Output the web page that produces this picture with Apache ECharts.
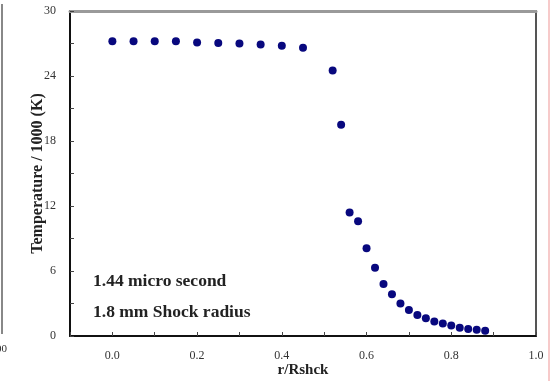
<!DOCTYPE html>
<html>
<head>
<meta charset="utf-8">
<script src="https://cdn.jsdelivr.net/npm/echarts@6/dist/echarts.min.js"></script>
<style>
  html, body { margin: 0; padding: 0; background: #fff; }
  #chart { width: 551px; height: 381px; }
</style>
</head>
<body>
<div id="chart"></div>
<script>
// Radial temperature profile behind the shock front
const rRatio = [0.00, 0.05, 0.10, 0.15, 0.20, 0.25, 0.30, 0.35, 0.40, 0.45,
                0.52, 0.54, 0.56, 0.58, 0.60, 0.62, 0.64, 0.66, 0.68, 0.70,
                0.72, 0.74, 0.76, 0.78, 0.80, 0.82, 0.84, 0.86, 0.88];
const temperatureK1000 = [27.2, 27.2, 27.2, 27.2, 27.1, 27.05, 27.0, 26.9, 26.8, 26.6,
                24.5, 19.5, 11.4, 10.6, 8.1, 6.3, 4.8, 3.85, 3.0, 2.4,
                1.95, 1.65, 1.35, 1.15, 0.97, 0.76, 0.64, 0.58, 0.49];
const xLabels = ['0.0', '0.2', '0.4', '0.6', '0.8', '1.0'];
const yLabels = ['0', '6', '12', '18', '24', '30'];
const notes = ['1.44 micro second', '1.8 mm Shock radius'];

const points = rRatio.map((r, i) => [r, temperatureK1000[i]]);
const serif = '"Liberation Serif", "DejaVu Serif", serif';

const chart = echarts.init(document.getElementById('chart'));
chart.setOption({
  animation: false,
  backgroundColor: '#ffffff',
  grid: { left: 70, right: 15, top: 11, bottom: 45, outerBoundsMode: 'none', containLabel: false },
  xAxis: [{
    type: 'value', min: -0.1, max: 1.0, interval: 0.1,
    name: 'r/Rshck', nameLocation: 'middle', nameGap: 27, nameMoveOverlap: false,
    nameTextStyle: { fontFamily: serif, fontWeight: 'bold', fontSize: 15, color: '#222' },
    axisLine: { onZero: false, lineStyle: { color: '#111', width: 2 } },
    axisTick: { inside: true, length: 4, lineStyle: { color: '#444' } },
    axisLabel: {
      margin: 14, fontFamily: serif, fontSize: 12, color: '#333',
      formatter: v => {
        const k = Math.round(v * 10);
        return (k >= 0 && k % 2 === 0) ? xLabels[k / 2] : '';
      }
    },
    splitLine: { show: false }
  }, {
    type: 'value', min: -0.1, max: 1.0, position: 'top',
    axisLine: { onZero: false, lineStyle: { color: '#9a9a9a', width: 3 } },
    axisTick: { show: false }, axisLabel: { show: false }, splitLine: { show: false }
  }],
  yAxis: [{
    type: 'value', min: 0, max: 30, interval: 3,
    name: 'Temperature / 1000 (K)', nameLocation: 'middle', nameGap: 24, nameMoveOverlap: false,
    nameTextStyle: { fontFamily: serif, fontWeight: 'bold', fontSize: 16, color: '#222' },
    axisLine: { onZero: false, lineStyle: { color: '#111', width: 2 } },
    axisTick: { inside: true, length: 4, lineStyle: { color: '#444' } },
    axisLabel: {
      margin: 14, fontFamily: serif, fontSize: 12, color: '#333',
      formatter: v => {
        const k = Math.round(v);
        return k % 6 === 0 ? yLabels[k / 6] : '';
      }
    },
    splitLine: { show: false }
  }, {
    type: 'value', min: 0, max: 30, position: 'right',
    axisLine: { show: true, onZero: false, lineStyle: { color: '#555', width: 2 } },
    axisTick: { show: false }, axisLabel: { show: false }, splitLine: { show: false }
  }],
  series: [{
    type: 'scatter',
    data: points,
    symbol: 'circle',
    symbolSize: 8,
    itemStyle: { color: '#08087e', opacity: 1 }
  }],
  graphic: [
    { type: 'text', left: 93, top: 272,
      style: { text: notes[0], font: 'bold 17.5px ' + serif, fill: '#222' } },
    { type: 'text', left: 93, top: 303,
      style: { text: notes[1], font: 'bold 17.5px ' + serif, fill: '#222' } },
    // edge of the neighbouring panel and the page border
    { type: 'line', shape: { x1: 2, y1: 4, x2: 2, y2: 334 },
      style: { stroke: '#888', lineWidth: 2 } },
    { type: 'text', left: -4, top: 344,
      style: { text: '00', font: '11px ' + serif, fill: '#333' } },
    { type: 'line', shape: { x1: 549, y1: 0, x2: 549, y2: 381 },
      style: { stroke: '#f4b8b8', lineWidth: 1.5 } }
  ]
});
</script>
</body>
</html>
